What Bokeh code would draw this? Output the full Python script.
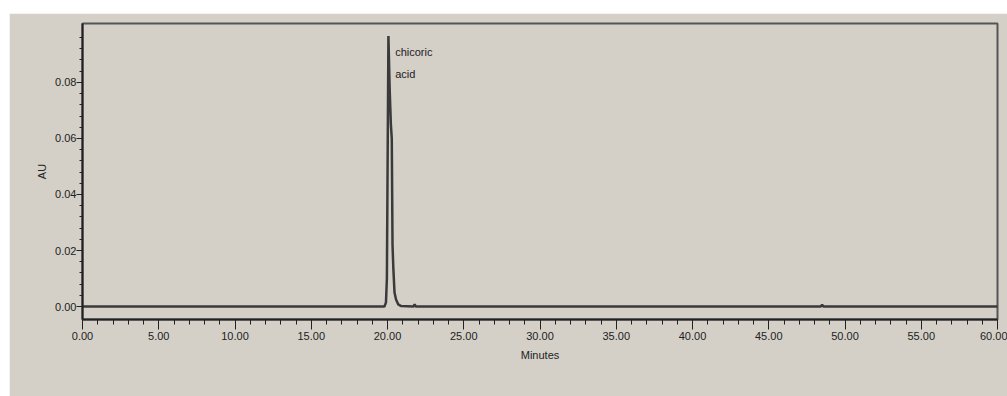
from bokeh.plotting import figure
from bokeh.models import FixedTicker, Range1d, Spacer, CustomJSTickFormatter
from bokeh.layouts import column, row
from bokeh.core.properties import value
from bokeh.embed import file_html
from bokeh.resources import INLINE

# Data
minutes = [0.0, 19.80, 19.90, 19.96, 20.00, 20.06, 20.14, 20.22, 20.28, 20.33, 20.38, 20.46,
           20.56, 20.70, 20.90, 21.70, 21.78, 21.86, 48.40, 48.50, 48.60, 60.0]
au = [0.0, 0.0, 0.0015, 0.010, 0.045, 0.0965, 0.078, 0.065, 0.060, 0.022, 0.014, 0.005,
      0.0025, 0.0008, 0.0002, 0.0, 0.0008, 0.0, 0.0, 0.0006, 0.0, 0.0]
x_ticks = [0, 5, 10, 15, 20, 25, 30, 35, 40, 45, 50, 55, 60]
y_ticks = [0.0, 0.02, 0.04, 0.06, 0.08]
peak_label_lines = ["chicoric", "acid"]
peak_label_x = 20.5
peak_label_y = [0.0907, 0.0829]

BG = "#d4d0c8"
FONT = "Liberation Sans"

p = figure(width=998, height=383, output_backend="svg", toolbar_location=None,
           x_range=Range1d(0, 60), y_range=Range1d(-0.0046, 0.101),
           background_fill_color=BG, border_fill_color=BG,
           min_border_left=73, min_border_right=10, min_border_top=10, min_border_bottom=77)

p.line(minutes, au, line_color="#3a3a3a", line_width=2.5)
p.text(x=[peak_label_x] * 2, y=peak_label_y, text=peak_label_lines,
       text_font=value(FONT), text_font_size="11px", text_color="#222222",
       text_baseline="middle", text_align="left")

p.grid.visible = False
p.outline_line_color = "#555555"
p.outline_line_width = 2

minor_x = [m for m in range(0, 61) if m % 5 != 0]
p.xaxis.ticker = FixedTicker(ticks=x_ticks, minor_ticks=minor_x)
minor_y = [round(i * 0.004, 4) for i in range(0, 26) if i % 5 != 0]
p.yaxis.ticker = FixedTicker(ticks=y_ticks, minor_ticks=minor_y)
fmt = CustomJSTickFormatter(code="return tick.toFixed(2);")
p.xaxis.formatter = fmt
p.yaxis.formatter = fmt

for ax in (p.xaxis, p.yaxis):
    ax.axis_line_color = "#222222"
    ax.axis_line_width = 2
    ax.major_tick_line_color = "#222222"
    ax.minor_tick_line_color = "#222222"
    ax.major_tick_in = 0
    ax.minor_tick_in = 0
    ax.major_label_text_font = FONT
    ax.major_label_text_font_size = "11px"
    ax.major_label_text_color = "#222222"
    ax.axis_label_text_font = FONT
    ax.axis_label_text_font_size = "11px"
    ax.axis_label_text_font_style = "normal"
    ax.axis_label_text_color = "#222222"

p.xaxis.major_tick_out = 10
p.xaxis.minor_tick_out = 5
p.xaxis.major_label_standoff = 2
p.xaxis.axis_label = "Minutes"
p.xaxis.axis_label_standoff = 6

p.yaxis.major_tick_out = 6
p.yaxis.minor_tick_out = 3
p.yaxis.major_label_standoff = 0
p.yaxis.axis_label = "AU"
p.yaxis.axis_label_standoff = 4

layout = column(Spacer(height=13, width=1007),
                row(Spacer(width=9, height=383), p))
open("out.html", "w").write(file_html(layout, INLINE))
